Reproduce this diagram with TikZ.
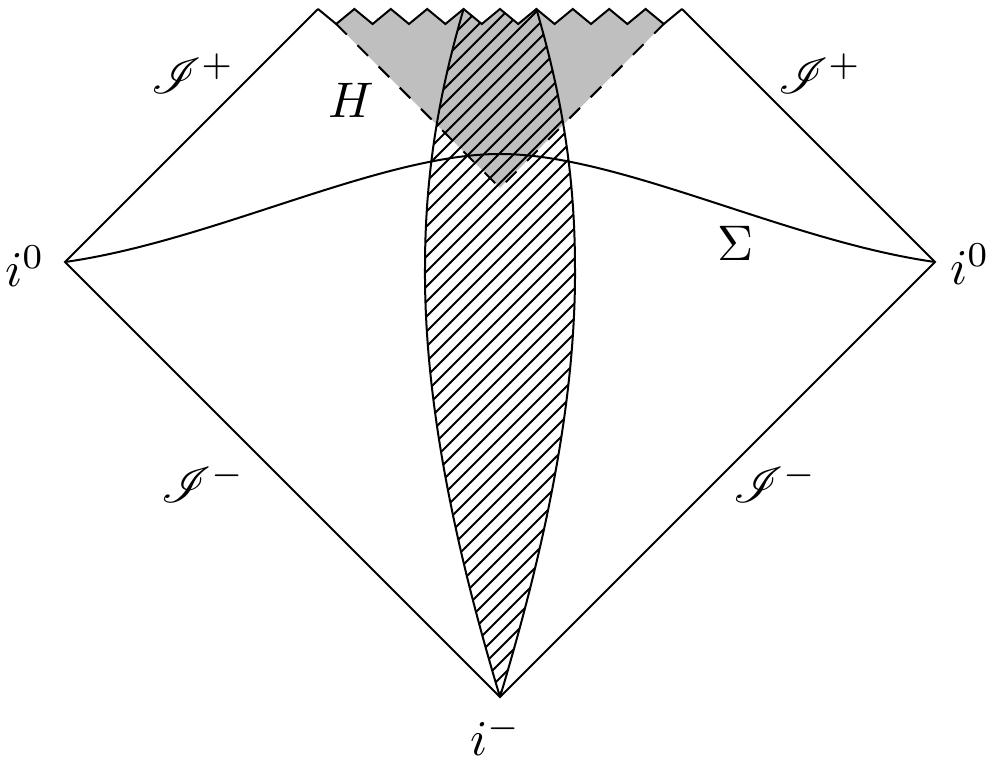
\documentclass[tikz,border=0pt]{standalone}
\usepackage{mathrsfs}
\usetikzlibrary{patterns}
\begin{document}
\begin{tikzpicture}[x=0.2pt,y=-0.2pt,
  edge/.style={line width=0.4pt},
  horizon/.style={dashed,line width=0.4pt},
  lbl/.style={inner sep=0pt}]
\useasboundingbox (0,0) rectangle (990,758);
% key points
\coordinate (i0L) at (65,262);
\coordinate (i0R) at (935,262);
\coordinate (im) at (500,697);
\coordinate (TL) at (318,9);
\coordinate (TR) at (682,9);
\coordinate (hv) at (500,188);
\coordinate (hl) at (336.2,24);
\coordinate (hr) at (663.8,24);
\coordinate (stop) at (500,154);
\coordinate (lensL) at (463.6,9);
\coordinate (lensR) at (536.4,9);
% trapped region
\fill[black!25] (hv) -- (hl)
  \foreach \k in {1,...,9} { -- ({318+36.4*\k},9) -- ({336.2+36.4*\k},24) } -- (hr) -- cycle;
% star
\path[pattern=north east lines]
  (im) .. controls (465,580) and (424,420) .. (425,268)
  .. controls (425,170) and (440,90) .. (lensL)
  -- (481.8,24) -- (500,9) -- (518.2,24) -- (lensR)
  .. controls (560,90) and (575,170) .. (575,268)
  .. controls (576,420) and (535,580) .. (im) -- cycle;
\draw[edge] (im) .. controls (465,580) and (424,420) .. (425,268)
  .. controls (425,170) and (440,90) .. (lensL);
\draw[edge] (im) .. controls (535,580) and (576,420) .. (575,268)
  .. controls (575,170) and (560,90) .. (lensR);
% horizon
\draw[horizon] (hl) -- (hv) -- (hr);
% Cauchy surface
\draw[edge] (i0L) .. controls (213.5,241.1) and (380,154) .. (stop)
  .. controls (620,154) and (786.5,241.1) .. (i0R);
% boundaries
\draw[edge] (TL) -- (i0L) -- (im) -- (i0R) -- (TR);
\draw[edge,line join=miter] (TL)
  \foreach \k in {0,...,9} { -- ({336.2+36.4*\k},24) -- ({354.4+36.4*\k},9) };
% labels
\node[lbl] (sp1) at (193,74) {$\mathscr{I}^+$};
\node[lbl] (sp2) at (820,74) {$\mathscr{I}^+$};
\node[lbl] (sm1) at (203,483) {$\mathscr{I}^-$};
\node[lbl] (sm2) at (775,483) {$\mathscr{I}^-$};
\node[lbl] (H) at (351,100) {$H$};
\node[lbl] (S) at (735.5,243.5) {$\Sigma$};
\node[lbl] (l0) at (25,266) {$i^0$};
\node[lbl] (r0) at (970,264) {$i^0$};
\node[lbl] (lm) at (496,736) {$i^-$};
\end{tikzpicture}
\end{document}
